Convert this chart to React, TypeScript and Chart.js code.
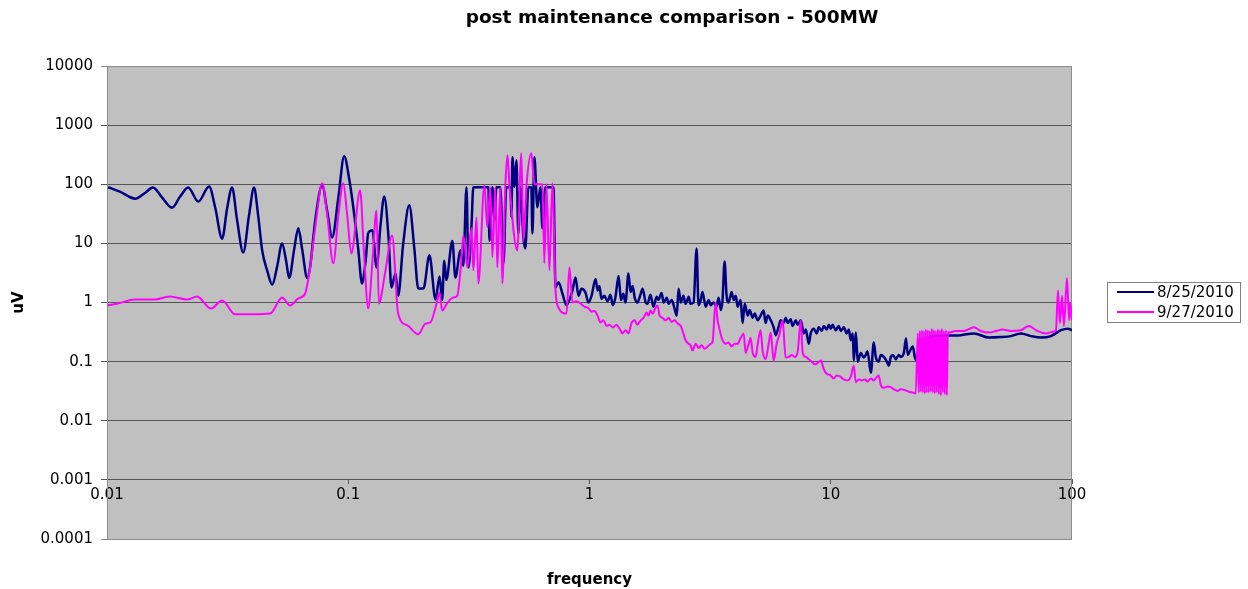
import { useEffect, useRef } from 'react';
import { Chart, registerables } from 'chart.js';

Chart.register(...registerables);

const TITLE = 'post maintenance comparison - 500MW';
const X_TITLE = 'frequency';
const Y_TITLE = 'uV';
const SERIES_LABELS = ['8/25/2010', '9/27/2010'];
const SERIES_COLORS = ['#000080', '#FF00FF'];
const X_TICKS = [0.01, 0.1, 1, 10, 100];
const Y_TICKS = [0.0001, 0.001, 0.01, 0.1, 1, 10, 100, 1000, 10000];

// 8/25/2010 — 0.01 to 0.8 Hz
const navyLowFreq = [
  0.0101, 0.0113, 0.0131, 0.0144, 0.0155, 0.0169, 0.0186, 0.0201, 0.0217, 0.0239,
  0.0265, 0.0281, 0.03, 0.0315, 0.033, 0.0346, 0.0367, 0.0388, 0.0407, 0.0423,
  0.044, 0.0461, 0.0484, 0.0507, 0.0532, 0.0553, 0.0569, 0.0597, 0.0621, 0.0644,
  0.0676, 0.0695, 0.073, 0.078, 0.0818, 0.0858, 0.091, 0.0962, 0.101, 0.105,
  0.11, 0.114, 0.118, 0.121, 0.126, 0.131, 0.136, 0.141, 0.147, 0.151,
  0.157, 0.161, 0.169, 0.179, 0.188, 0.195, 0.205, 0.217, 0.23, 0.239,
  0.245, 0.25, 0.255, 0.27, 0.278, 0.292, 0.3, 0.309, 0.315, 0.324,
  0.33, 0.381, 0.385, 0.396, 0.404, 0.411, 0.427, 0.44, 0.452, 0.47,
  0.475, 0.479, 0.489, 0.498, 0.507, 0.517, 0.532, 0.542, 0.558, 0.574,
  0.58, 0.591, 0.608, 0.626, 0.638, 0.656, 0.709, 0.723, 0.744, 0.773,
  0.803,
];
const navyLowVal = [
  89, 75, 57, 72, 88, 60, 40, 62, 88, 51,
  92, 40, 12, 40, 88, 25, 7, 30, 88, 30,
  7.5, 3.5, 2.0, 4, 10, 5, 2.6, 8, 18, 8,
  2.6, 4, 25, 96, 35, 12.6, 60, 298, 120, 40,
  8, 2.1, 5, 14.8, 16.6, 3.9, 20, 62, 12, 1.8,
  3.1, 1.3, 10, 44, 8, 1.73, 1.73, 6.3, 1.12, 2.75,
  1.1, 5.1, 2.4, 11, 2.65, 7.6, 4.2, 89, 3.9, 18.7,
  89, 89, 11, 89, 25, 89, 89, 4.6, 89, 89,
  27.5, 286, 90, 254, 14.7, 89, 12.6, 8.2, 89, 89,
  14.7, 286, 41, 89, 18, 89, 89, 1.8, 2.2, 1.4,
  0.9,
];

// 8/25/2010 — 0.85 to 100 Hz
const navyHighFreq = [
  0.85, 0.875, 0.9, 0.926, 0.962, 0.99, 1.02, 1.06, 1.08, 1.1,
  1.12, 1.15, 1.19, 1.22, 1.25, 1.28, 1.32, 1.35, 1.38, 1.41,
  1.45, 1.48, 1.51, 1.54, 1.58, 1.63, 1.66, 1.71, 1.74, 1.79,
  1.84, 1.9, 1.93, 1.99, 2.03, 2.09, 2.13, 2.19, 2.25, 2.3,
  2.34, 2.39, 2.45, 2.5, 2.58, 2.62, 2.7, 2.78, 2.83, 2.89,
  2.94, 3.03, 3.12, 3.18, 3.27, 3.36, 3.43, 3.5, 3.56, 3.63,
  3.7, 3.77, 3.88, 3.96, 4.04, 4.11, 4.23, 4.31, 4.4, 4.53,
  4.61, 4.75, 4.84, 4.98, 5.12, 5.27, 5.37, 5.48, 5.64, 5.8,
  5.91, 6.09, 6.2, 6.38, 6.51, 6.63, 6.82, 6.95, 7.16, 7.3,
  7.51, 7.73, 7.88, 8.11, 8.26, 8.5, 8.75, 8.91, 9.18, 9.35,
  9.63, 9.82, 10.0, 10.19, 10.49, 10.79, 11.0, 11.32, 11.65, 11.88,
  12.1, 12.34, 12.46, 12.7, 12.94, 13.32, 13.7, 13.97, 14.2, 14.66,
  15.08, 15.37, 15.8, 16.13, 16.6, 17.08, 17.4, 17.74, 18.09, 18.61,
  19.15, 19.5, 20.09, 20.5, 20.87, 21.27, 21.9, 22.3, 22.75, 26.0,
  30.6, 34.6, 39.2, 45.3, 50.7, 55.8, 61.4, 67.6, 74.3, 81.8,
  90.0, 96.3, 100,
];
const navyHighVal = [
  1.6, 2.65, 1.3, 1.7, 1.48, 1.0, 1.3, 2.5, 1.6, 1.9,
  1.15, 1.3, 1.05, 1.35, 0.9, 1.2, 2.8, 1.1, 1.4, 1.0,
  3.1, 1.5, 1.9, 1.2, 1.0, 1.4, 1.7, 1.0, 0.95, 1.35,
  0.85, 1.25, 1.1, 1.45, 1.0, 1.2, 0.95, 1.1, 0.8, 0.6,
  1.7, 1.0, 1.3, 0.95, 1.25, 0.95, 1.0, 8.2, 0.9, 1.1,
  1.5, 0.85, 1.1, 0.9, 1.0, 0.85, 1.2, 0.75, 1.1, 4.95,
  1.3, 1.0, 1.5, 1.1, 1.3, 0.85, 1.1, 0.45, 0.95, 0.6,
  0.75, 0.55, 0.65, 0.5, 0.6, 0.73, 0.45, 0.6, 0.5, 0.38,
  0.28, 0.4, 0.5, 0.45, 0.55, 0.45, 0.52, 0.4, 0.5, 0.42,
  0.5, 0.3, 0.35, 0.2, 0.3, 0.36, 0.3, 0.38, 0.33, 0.4,
  0.35, 0.42, 0.36, 0.42, 0.34, 0.4, 0.33, 0.38, 0.3, 0.35,
  0.23, 0.3, 0.104, 0.31, 0.1, 0.14, 0.117, 0.13, 0.15, 0.065,
  0.21, 0.12, 0.1, 0.13, 0.12, 0.1, 0.085, 0.12, 0.13, 0.11,
  0.13, 0.12, 0.14, 0.245, 0.13, 0.15, 0.18, 0.12, 0.104, 0.27,
  0.276, 0.28, 0.3, 0.255, 0.26, 0.27, 0.3, 0.27, 0.255, 0.27,
  0.34, 0.36, 0.34,
];

// 9/27/2010 — 0.01 to 0.83 Hz
const pinkLowFreq = [
  0.0101, 0.0111, 0.0131, 0.0158, 0.0182, 0.0215, 0.0236, 0.027, 0.03, 0.034,
  0.04, 0.0475, 0.0532, 0.0574, 0.0621, 0.0663, 0.0689, 0.073, 0.078, 0.0818,
  0.0867, 0.091, 0.0953, 0.099, 0.103, 0.112, 0.116, 0.121, 0.126, 0.131,
  0.134, 0.142, 0.152, 0.161, 0.176, 0.195, 0.209, 0.219, 0.234, 0.239,
  0.245, 0.258, 0.273, 0.283, 0.292, 0.3, 0.312, 0.324, 0.33, 0.34,
  0.346, 0.367, 0.377, 0.388, 0.396, 0.407, 0.415, 0.427, 0.435, 0.448,
  0.457, 0.466, 0.502, 0.522, 0.532, 0.548, 0.574, 0.591, 0.638, 0.65,
  0.663, 0.682, 0.702, 0.723, 0.744, 0.803, 0.826,
];
const pinkLowVal = [
  0.89, 0.96, 1.12, 1.12, 1.26, 1.12, 1.26, 0.79, 1.08, 0.63,
  0.63, 0.65, 1.22, 0.89, 1.17, 1.42, 3.1, 18.7, 104, 30,
  4.6, 30, 104, 30, 6.75, 79, 8, 0.79, 5, 36,
  0.96, 3.1, 13.6, 0.65, 0.41, 0.29, 0.44, 0.46, 1.08, 1.48,
  0.73, 1.0, 1.22, 1.3, 3.5, 13.6, 3.9, 18, 3.5, 27.5,
  2.1, 96, 18.7, 89, 5.8, 89, 3.9, 89, 2.1, 96,
  310, 96, 7.6, 335, 11, 96, 335, 100, 100, 4.6,
  100, 3.5, 104, 1.6, 0.82, 0.65, 3.9,
];

// 9/27/2010 — 0.85 to 22.5 Hz
const pinkMidFreq = [
  0.85, 0.884, 0.918, 0.953, 0.99, 1.02, 1.049, 1.08, 1.11, 1.143,
  1.176, 1.21, 1.25, 1.294, 1.332, 1.37, 1.41, 1.45, 1.494, 1.54,
  1.58, 1.63, 1.675, 1.724, 1.757, 1.79, 1.826, 1.879, 1.915, 1.952,
  2.009, 2.067, 2.13, 2.19, 2.25, 2.319, 2.39, 2.45, 2.5, 2.58,
  2.62, 2.675, 2.753, 2.83, 2.915, 3.0, 3.088, 3.18, 3.24, 3.33,
  3.397, 3.462, 3.56, 3.667, 3.77, 3.88, 3.998, 4.11, 4.23, 4.355,
  4.44, 4.57, 4.656, 4.75, 4.885, 4.98, 5.12, 5.222, 5.37, 5.529,
  5.64, 5.8, 5.968, 6.143, 6.32, 6.5, 6.695, 6.89, 7.09, 7.3,
  7.51, 7.65, 7.88, 8.11, 8.34, 8.58, 8.83, 9.1, 9.35, 9.63,
  9.91, 10.3, 10.59, 11.0, 11.32, 11.77, 12.1, 12.46, 12.7, 13.07,
  13.45, 13.84, 14.2, 14.66, 15.08, 15.52, 15.8, 16.13, 16.6, 17.24,
  17.74, 18.26, 19.0, 19.5, 20.28, 21.07, 21.9, 22.5,
];
const pinkMidVal = [
  1.0, 1.05, 0.96, 0.85, 0.8, 0.7, 0.72, 0.6, 0.46, 0.5,
  0.4, 0.42, 0.38, 0.42, 0.36, 0.3, 0.34, 0.3, 0.45, 0.5,
  0.42, 0.5, 0.55, 0.68, 0.6, 0.73, 0.65, 0.82, 0.89, 0.6,
  0.55, 0.5, 0.55, 0.47, 0.5, 0.44, 0.4, 0.3, 0.23, 0.2,
  0.19, 0.155, 0.2, 0.17, 0.19, 0.165, 0.18, 0.2, 0.22, 1.0,
  0.5, 0.35, 0.23, 0.2, 0.21, 0.18, 0.2, 0.2, 0.25, 0.3,
  0.14, 0.2, 0.25, 0.14, 0.12, 0.2, 0.34, 0.15, 0.11, 0.2,
  0.31, 0.104, 0.2, 0.3, 0.5, 0.117, 0.12, 0.13, 0.12, 0.15,
  0.5, 0.14, 0.12, 0.11, 0.1, 0.09, 0.095, 0.104, 0.075, 0.062,
  0.06, 0.052, 0.058, 0.055, 0.05, 0.048, 0.055, 0.085, 0.045, 0.05,
  0.048, 0.05, 0.046, 0.052, 0.048, 0.055, 0.058, 0.04, 0.036, 0.038,
  0.037, 0.034, 0.032, 0.034, 0.033, 0.031, 0.03, 0.029,
];

// 9/27/2010 — dense oscillation 23–31 Hz
const pinkBlockFreq = [
  22.96, 23.18, 23.4, 23.63, 23.85, 24.08, 24.31, 24.55, 24.78, 25.02,
  25.26, 25.5, 25.75, 26.0, 26.25, 26.5, 26.75, 27.01, 27.27, 27.53,
  27.8, 28.06, 28.33, 28.61, 28.88, 29.16, 29.44, 29.72, 30.01, 30.3,
  30.59,
];
const pinkBlockVal = [
  0.3, 0.03, 0.33, 0.031, 0.34, 0.03, 0.33, 0.029, 0.35, 0.03,
  0.34, 0.03, 0.33, 0.031, 0.36, 0.03, 0.34, 0.029, 0.33, 0.03,
  0.35, 0.028, 0.34, 0.027, 0.36, 0.03, 0.33, 0.028, 0.34, 0.027,
  0.32,
];

// 9/27/2010 — above 31 Hz
const pinkHighFreq = [
  30.9, 33.0, 35.6, 39.2, 41.9, 45.3, 48.4, 51.7, 55.8, 61.4,
  66.3, 70.9, 78.0, 83.4, 85.8, 87.5, 89.1, 91.0, 92.6, 95.3,
  97.3, 98.1, 100,
];
const pinkHighVal = [
  0.31, 0.33, 0.33, 0.38, 0.33, 0.31, 0.33, 0.35, 0.33, 0.34,
  0.4, 0.34, 0.3, 0.32, 0.34, 1.6, 0.45, 1.3, 0.4, 2.6,
  0.5, 1.0, 0.5,
];

const FONT = 'DejaVu Sans';

const toPoints = (xs: number[], ys: number[]) => xs.map((x, i) => ({ x, y: ys[i] }));

const decor = {
  id: 'decor',
  beforeDraw(chart: any) {
    const { ctx, chartArea: a } = chart;
    ctx.save();
    ctx.fillStyle = '#ffffff';
    ctx.fillRect(0, 0, chart.width, chart.height);
    ctx.fillStyle = '#c0c0c0';
    ctx.fillRect(a.left, a.top, a.right - a.left, a.bottom - a.top);
    ctx.restore();
  },
  beforeDatasetsDraw(chart: any) {
    const { ctx, chartArea: a } = chart;
    ctx.save();
    ctx.strokeStyle = '#8c8c8c';
    ctx.lineWidth = 1;
    ctx.strokeRect(a.left + 0.5, a.top + 0.5, a.right - a.left - 1, a.bottom - a.top);
    ctx.restore();
  },
  afterDraw(chart: any) {
    const { ctx, chartArea: a } = chart;
    ctx.save();
    ctx.fillStyle = '#000';
    ctx.textAlign = 'center';
    ctx.textBaseline = 'middle';
    ctx.font = `bold 18.5px "${FONT}"`;
    ctx.fillText(TITLE, 672, 18);
    ctx.font = `bold 15px "${FONT}"`;
    ctx.fillText(X_TITLE, (a.left + a.right) / 2, 580);

    // legend
    const lx = a.right + 35;
    const ly = 282;
    ctx.strokeStyle = '#808080';
    ctx.lineWidth = 1;
    ctx.strokeRect(lx + 0.5, ly + 0.5, 133, 40);
    ctx.font = `15px "${FONT}"`;
    ctx.textAlign = 'left';
    SERIES_LABELS.forEach((lab, i) => {
      const y = ly + 10 + i * 20;
      ctx.strokeStyle = SERIES_COLORS[i];
      ctx.lineWidth = 2;
      ctx.beginPath();
      ctx.moveTo(lx + 10, y);
      ctx.lineTo(lx + 47, y);
      ctx.stroke();
      ctx.fillStyle = '#000';
      ctx.fillText(lab, lx + 50, y + 1);
    });
    ctx.restore();
  },
};

export default function App() {
  const ref = useRef<HTMLCanvasElement | null>(null);

  useEffect(() => {
    if (!ref.current) return;
    const chart = new Chart(ref.current, {
      type: 'line',
      data: {
        datasets: [
          {
            label: SERIES_LABELS[0],
            data: [...toPoints(navyLowFreq, navyLowVal), ...toPoints(navyHighFreq, navyHighVal)],
            borderColor: SERIES_COLORS[0],
            backgroundColor: SERIES_COLORS[0],
            borderWidth: 2.5,
            pointRadius: 0,
            cubicInterpolationMode: 'monotone',
            order: 1,
          },
          {
            label: SERIES_LABELS[1],
            data: [
              ...toPoints(pinkLowFreq, pinkLowVal),
              ...toPoints(pinkMidFreq, pinkMidVal),
              ...toPoints(pinkBlockFreq, pinkBlockVal),
              ...toPoints(pinkHighFreq, pinkHighVal),
            ],
            borderColor: SERIES_COLORS[1],
            backgroundColor: SERIES_COLORS[1],
            borderWidth: 2,
            pointRadius: 0,
            cubicInterpolationMode: 'monotone',
            order: 0,
          },
        ],
      },
      options: {
        animation: false,
        responsive: false,
        devicePixelRatio: 1,
        layout: { padding: { top: 66, bottom: 50, left: 0, right: 176 } },
        plugins: {
          legend: { display: false },
          title: { display: false },
          tooltip: { enabled: false },
        },
        scales: {
          x: {
            type: 'logarithmic',
            axis: 'x',
            position: { y: 0.001 } as any,
            min: 0.01,
            max: 100,
            afterBuildTicks: (s: any) => {
              s.ticks = X_TICKS.map((v) => ({ value: v }));
            },
            ticks: {
              callback: (v: any) => String(v),
              font: { family: FONT, size: 15 },
              color: '#000',
              padding: 2,
              maxRotation: 0,
              autoSkip: false,
            },
            grid: { drawOnChartArea: false, drawTicks: true, tickLength: 4, color: '#555' },
            border: { display: true, color: '#555' },
          },
          y: {
            type: 'logarithmic',
            position: 'left',
            min: 0.0001,
            max: 10000,
            afterBuildTicks: (s: any) => {
              s.ticks = Y_TICKS.map((v) => ({ value: v }));
            },
            afterFit: (s: any) => {
              s.width = 107;
            },
            ticks: {
              callback: (v: any) => String(v),
              font: { family: FONT, size: 15 },
              color: '#000',
              padding: 8,
              autoSkip: false,
            },
            grid: {
              color: (c: any) =>
                c.tick && (c.tick.value === 10000 || c.tick.value === 0.0001) ? '#8c8c8c' : '#555',
              tickLength: 6,
              drawTicks: true,
            },
            border: { color: '#666' },
            title: {
              display: true,
              text: Y_TITLE,
              font: { family: FONT, size: 15, weight: 'bold' },
              color: '#000',
              padding: { top: 10, bottom: 0 },
            },
          },
        },
      },
      plugins: [decor],
    } as any);
    return () => chart.destroy();
  }, []);

  return (
    <div style={{ position: 'fixed', left: 0, top: 0, width: 1248, height: 589, background: '#fff' }}>
      <canvas ref={ref} width={1248} height={589} style={{ display: 'block' }} />
    </div>
  );
}
